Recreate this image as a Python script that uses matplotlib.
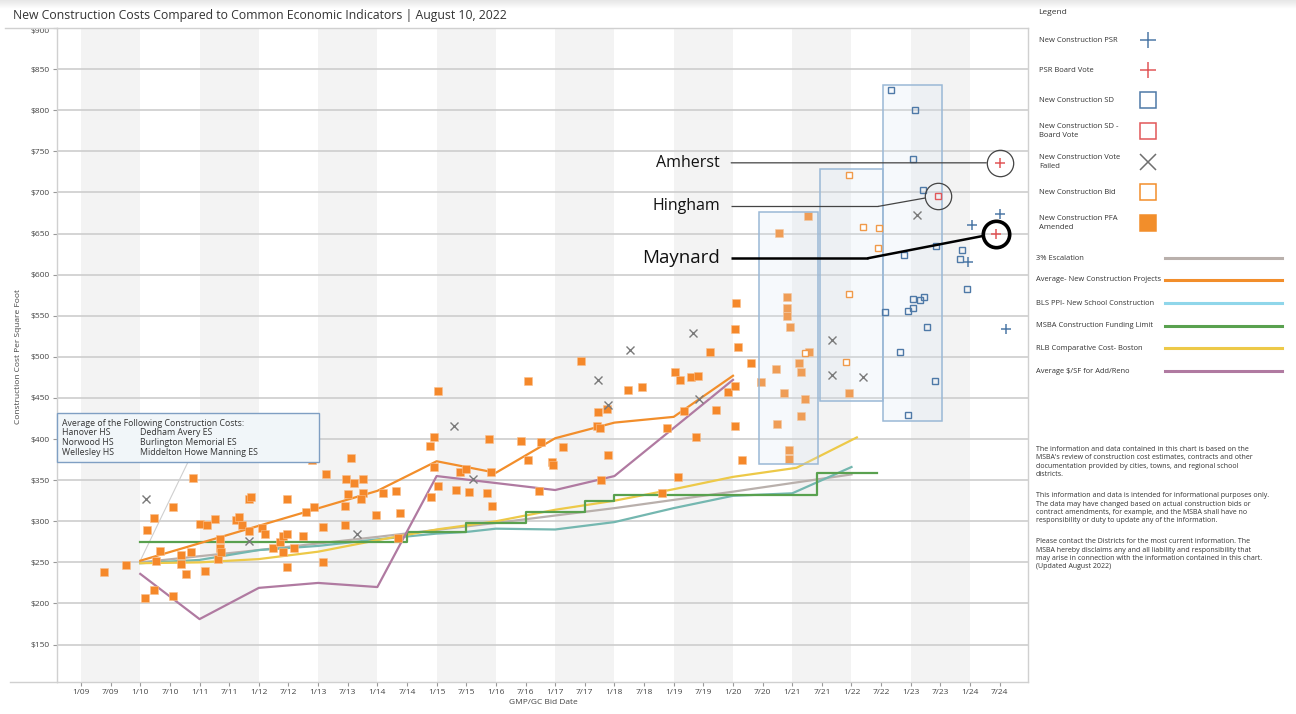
import matplotlib
matplotlib.use('Agg')
import matplotlib.pyplot as plt
from matplotlib.lines import Line2D
from matplotlib.patches import Rectangle
import numpy as np

plt.rcParams['font.family'] = ['Open Sans', 'DejaVu Sans']

# ---- data (bid year, $/sf) ----
pfa_x = [2009.39, 2009.76, 2010.11, 2010.08, 2010.24, 2010.26, 2010.33, 2010.24, 2010.55, 2010.55,
         2010.68, 2010.68, 2010.77, 2010.85, 2010.89, 2011.01, 2011.09, 2011.12, 2011.26, 2011.31,
         2011.35, 2011.35, 2011.37, 2011.62, 2011.66, 2011.72, 2011.83, 2011.83, 2011.86, 2012.06,
         2012.10, 2012.24, 2012.36, 2012.40, 2012.41, 2012.47, 2012.48, 2012.47, 2012.60, 2012.74,
         2012.80, 2012.89, 2012.93, 2013.09, 2013.09, 2013.13, 2013.47, 2013.50, 2013.45, 2013.45,
         2013.55, 2013.60, 2013.76, 2013.76, 2013.73, 2013.97, 2014.10, 2014.31, 2014.38, 2014.35,
         2014.88, 2014.96, 2015.03, 2014.96, 2015.03, 2014.91, 2015.32, 2015.39, 2015.50, 2015.55,
         2015.85, 2015.88, 2015.91, 2015.93, 2016.43, 2016.54, 2016.54, 2016.73, 2016.76, 2016.94,
         2016.97, 2017.14, 2017.44, 2017.72, 2017.87, 2017.70, 2017.76, 2017.90, 2017.78, 2018.23,
         2018.47, 2018.81, 2018.89, 2019.03, 2019.11, 2019.07, 2019.17, 2019.30, 2019.41, 2019.37,
         2019.62, 2019.72, 2019.91, 2020.04, 2020.08, 2020.04, 2020.03, 2020.16, 2020.31, 2020.47,
         2020.72, 2020.75, 2020.05, 2020.92, 2020.91, 2020.92, 2020.96, 2021.28, 2021.12, 2021.15,
         2020.86, 2021.22, 2021.15, 2020.94, 2020.95, 2021.95, 2021.27, 2020.77]
pfa_y = [238, 247, 289, 207, 304, 252, 264, 216, 317, 209,
         259, 248, 236, 263, 353, 297, 240, 295, 303, 254,
         279, 268, 263, 301, 305, 295, 288, 327, 329, 292,
         284, 267, 275, 282, 263, 327, 285, 244, 267, 282,
         311, 374, 317, 293, 250, 358, 351, 333, 318, 295,
         377, 346, 352, 335, 327, 308, 335, 337, 310, 280,
         392, 403, 458, 366, 343, 330, 338, 360, 364, 336,
         335, 400, 360, 319, 398, 471, 375, 337, 397, 372,
         368, 390, 495, 433, 437, 416, 414, 381, 350, 460,
         463, 334, 413, 482, 472, 354, 434, 475, 477, 403,
         506, 435, 457, 464, 512, 534, 416, 375, 493, 469,
         485, 418, 566, 573, 560, 550, 536, 506, 492, 482,
         456, 449, 428, 387, 376, 456, 671, 651]

bid_x = [2021.95, 2022.19, 2022.47, 2022.45, 2021.96, 2021.90, 2021.22]
bid_y = [721, 658, 657, 633, 577, 494, 505]

failed_x = [2010.09, 2011.84, 2013.65, 2015.29, 2015.62, 2017.73, 2017.90, 2018.26, 2019.33,
            2019.42, 2021.67, 2021.67, 2022.19, 2023.10]
failed_y = [327, 276, 285, 416, 351, 472, 441, 508, 529, 449, 521, 478, 475, 672]

sd_x = [2022.67, 2023.07, 2023.03, 2023.20, 2023.43, 2022.89, 2023.87, 2023.83, 2023.95, 2022.56,
        2023.22, 2023.15, 2023.04, 2023.03, 2022.96, 2023.28, 2022.81, 2023.41, 2022.96]
sd_y = [824, 800, 741, 703, 635, 624, 630, 619, 583, 555,
        573, 569, 570, 559, 556, 536, 506, 471, 429]

sdvote_x = [2023.46]
sdvote_y = [696]

psr_x = [2024.50, 2024.04, 2023.97, 2024.60]
psr_y = [674, 660, 615, 534]

psrvote_x = [2024.50, 2024.43]
psrvote_y = [736, 650]

esc_x = [2010, 2012, 2014, 2016, 2018, 2020, 2022]
esc_y = [250, 265, 281, 298, 316, 336, 357]

avg_x = [2010, 2014, 2015, 2016, 2017, 2018, 2019, 2020]
avg_y = [252, 337, 373, 359, 401, 420, 427, 477]

bls_x = [2010, 2011, 2012, 2013, 2014, 2015, 2015.5, 2016, 2017, 2018, 2019, 2020, 2021, 2022]
bls_y = [249, 253, 265, 270, 278, 285, 287, 291, 290, 299, 316, 331, 334, 366]

msba_x = [2010, 2014.5, 2015.5, 2016.5, 2017.5, 2018.0, 2021.42, 2022.43]
msba_y = [275, 287, 298, 311, 325, 332, 359, 359]

rlb_x = [2010, 2011, 2012, 2013, 2014, 2015, 2016, 2017, 2018, 2019, 2020, 2021.07, 2022.09]
rlb_y = [249, 250, 254, 263, 277, 290, 300, 314, 325, 339, 354, 365, 402]

addreno_x = [2010, 2011, 2012, 2013, 2014, 2015, 2017, 2018, 2020]
addreno_y = [236, 181, 219, 225, 220, 355, 338, 355, 472]

box_x0 = [2020.44, 2021.47, 2022.53]
box_x1 = [2021.43, 2022.53, 2023.53]
box_y0 = [370, 446, 422]
box_y1 = [676, 729, 831]

x_ticks = np.arange(2009, 2025, 0.5)
x_tick_labels = ['1/09', '7/09', '1/10', '7/10', '1/11', '7/11', '1/12', '7/12', '1/13', '7/13',
                 '1/14', '7/14', '1/15', '7/15', '1/16', '7/16', '1/17', '7/17', '1/18', '7/18',
                 '1/19', '7/19', '1/20', '7/20', '1/21', '7/21', '1/22', '7/22', '1/23', '7/23',
                 '1/24', '7/24']
y_ticks = [150, 200, 250, 300, 350, 400, 450, 500, 550, 600, 650, 700, 750, 800, 850, 900]

W, H = 1296, 714
fig = plt.figure(figsize=(W / 100, H / 100), dpi=100)


def fx(px):
    return px / W


def fy(py):
    return 1 - py / H


# header shading
gax = fig.add_axes([0, fy(9), 1, 9 / H])
gax.imshow(np.linspace(0.9, 1, 50).reshape(-1, 1), aspect='auto', cmap='gray', vmin=0, vmax=1)
gax.axis('off')

ax = fig.add_axes([fx(57), fy(682), (1028 - 57) / W, (682 - 28) / H])
ax.set_xlim(2008.595, 2024.978)
ax.set_ylim(104.5, 900)

for yr in range(2009, 2024, 2):
    ax.axvspan(yr, yr + 1, color='#f3f3f3', lw=0, zorder=0)

ax.set_yticks(y_ticks)
ax.set_yticklabels(['\\$%d' % v for v in y_ticks])
ax.get_yticklabels()[-1].set_va('top')
ax.set_xticks(x_ticks)
ax.set_xticklabels(x_tick_labels)
ax.yaxis.grid(True, color='#cdcdcd', lw=1.2, zorder=1)
ax.set_axisbelow(True)
ax.tick_params(axis='both', length=3, color='#999999', labelsize=6, labelcolor='#444444', pad=2)
for s in ax.spines.values():
    s.set_color('#d0d0d0')
    s.set_linewidth(1.0)

# lines
ax.plot(esc_x, esc_y, color='#b9b0ac', lw=1.6, zorder=3)
ax.plot(bls_x, bls_y, color='#74b7b0', lw=1.6, zorder=3)
ax.plot(rlb_x, rlb_y, color='#edc948', lw=1.6, zorder=3)
ax.plot(msba_x, msba_y, color='#59a14f', lw=1.6, drawstyle='steps-post', zorder=3)
ax.plot(addreno_x, addreno_y, color='#b07aa1', lw=1.6, zorder=3)
ax.plot(avg_x, avg_y, color='#f28e2b', lw=1.6, zorder=3)

# markers
ax.scatter(pfa_x, pfa_y, marker='s', s=26, c='#f5882a', edgecolors='#f9c08e', linewidths=0.4, zorder=5)

for x0, x1, y0, y1 in zip(box_x0, box_x1, box_y0, box_y1):
    ax.add_patch(Rectangle((x0, y0), x1 - x0, y1 - y0, facecolor='#dae8f3', alpha=0.22,
                           edgecolor='none', zorder=6))
    ax.add_patch(Rectangle((x0, y0), x1 - x0, y1 - y0, facecolor='none',
                           edgecolor='#9ab8d6', lw=1.1, zorder=6))

ax.plot(bid_x, bid_y, ls='none', marker='s', ms=5, mfc='white', mec='#f09a4a', mew=1.0, zorder=7)
ax.plot(failed_x, failed_y, ls='none', marker='x', ms=6, mec='#7a7a7a', mew=1.0, zorder=7)
ax.plot(sd_x, sd_y, ls='none', marker='s', ms=5, mfc='none', mec='#4e79a7', mew=1.0, zorder=7)
ax.plot(sdvote_x, sdvote_y, ls='none', marker='s', ms=5, mfc='none', mec='#e15759', mew=1.0, zorder=7)
ax.plot(psr_x, psr_y, ls='none', marker='+', ms=7, mec='#4e79a7', mew=1.1, zorder=7)
ax.plot(psrvote_x, psrvote_y, ls='none', marker='+', ms=7, mec='#e15759', mew=1.1, zorder=7)

# callouts
callout_labels = ['Amherst', 'Hingham', 'Maynard']
callout_targets = [(psrvote_x[0], psrvote_y[0]), (sdvote_x[0], sdvote_y[0]), (psrvote_x[1], psrvote_y[1])]
callout_y = [736, 683, 620]
callout_bend = [None, 2022.45, 2022.28]
callout_size = [11.5, 11.5, 13.5]
callout_lw = [0.9, 0.9, 1.8]
callout_ring = [0.9, 0.9, 2.6]
callout_col = ['#444444', '#444444', '#000000']
for lbl, tgt, ly, bx, fs, lw, rw, c in zip(callout_labels, callout_targets, callout_y, callout_bend,
                                          callout_size, callout_lw, callout_ring, callout_col):
    ax.text(2019.78, ly, lbl, ha='right', va='center', fontsize=fs, color='#111111', zorder=9)
    if bx is None:
        start = (2019.97, ly)
    else:
        ax.plot([2019.97, bx], [ly, ly], color=c, lw=lw, zorder=8, solid_capstyle='butt')
        start = (bx, ly)
    ax.annotate('', xy=tgt, xytext=start,
                arrowprops=dict(arrowstyle='-', color=c, lw=lw, shrinkA=0, shrinkB=9.6), zorder=8)
    ax.plot([tgt[0]], [tgt[1]], marker='o', ms=19, mfc='none', mec=c, mew=rw, zorder=8)

# info box
fig.patches.append(Rectangle((fx(57), fy(462)), (319 - 57) / W, (462 - 413) / H,
                             transform=fig.transFigure, facecolor='#f1f6f9', edgecolor='#7f9fc3',
                             lw=1.0, zorder=10))
ax.annotate('', xy=(avg_x[0], avg_y[0]), xytext=(188, H - 462), textcoords='figure pixels',
            arrowprops=dict(arrowstyle='-', color='#cfcfcf', lw=0.8, shrinkA=0, shrinkB=0), zorder=2)
tk = dict(fontsize=6.3, color='#333333', va='center', zorder=11)
fig.text(fx(62), fy(423), 'Average of the Following Construction Costs:', **tk)
for i, (a, b) in enumerate([('Hanover HS', 'Dedham Avery ES'), ('Norwood HS', 'Burlington Memorial ES'),
                            ('Wellesley HS', 'Middelton Howe Manning ES')]):
    fig.text(fx(62), fy(433 + 9.7 * i), a, **tk)
    fig.text(fx(140), fy(433 + 9.7 * i), b, **tk)

# titles / labels
fig.text(fx(13), fy(15), 'New Construction Costs Compared to Common Economic Indicators | August 10, 2022',
         fontsize=8.8, color='#333333', va='center')
fig.text(fx(543), fy(703), 'GMP/GC Bid Date', fontsize=6, color='#444444', ha='center', va='center')
fig.text(fx(19), fy(357), 'Construction Cost Per Square Foot', fontsize=6, color='#444444',
         rotation=90, ha='center', va='center')

# edge lines
fig.add_artist(Line2D([fx(5), fx(57)], [fy(28), fy(28)], color='#d0d0d0', lw=1.0))
fig.add_artist(Line2D([fx(10), fx(57)], [fy(682), fy(682)], color='#d0d0d0', lw=1.0))

# legend panel
fig.text(fx(1038), fy(12), 'Legend', fontsize=6, color='#333333', va='center')
leg_labels = ['New Construction PSR', 'PSR Board Vote', 'New Construction SD',
              'New Construction SD -\nBoard Vote', 'New Construction Vote\nFailed',
              'New Construction Bid', 'New Construction PFA\nAmended']
leg_y = [40, 70, 100, 131, 162, 192, 223]
leg_marker = [('+', 'none', '#4e79a7'), ('+', 'none', '#e15759'), ('s', 'none', '#4e79a7'),
              ('s', 'none', '#e15759'), ('x', 'none', '#6f6f6f'), ('s', 'none', '#f28e2b'),
              ('s', '#f28e2b', '#f28e2b')]
for lbl, yy, (m, fc, ec) in zip(leg_labels, leg_y, leg_marker):
    fig.text(fx(1039), fy(yy), lbl, fontsize=5.5, color='#333333', va='center', linespacing=1.25)
    fig.add_artist(Line2D([fx(1148)], [fy(yy)], marker=m, ms=11, mfc=fc, mec=ec, mew=1.1, ls='none'))

line_labels = ['3% Escalation', 'Average- New Construction Projects', 'BLS PPI- New School Construction',
               'MSBA Construction Funding Limit', 'RLB Comparative Cost- Boston', 'Average $/SF for Add/Reno']
line_colors = ['#b9b0ac', '#f28e2b', '#8fd6ea', '#59a14f', '#edc948', '#b07aa1']
line_y = [258, 280, 303, 326, 348, 371]
for lbl, c, yy in zip(line_labels, line_colors, line_y):
    fig.text(fx(1036), fy(yy), lbl, fontsize=5.4, color='#333333', va='center')
    fig.add_artist(Line2D([fx(1165), fx(1282)], [fy(yy), fy(yy)], color=c, lw=2.2))

notes = [
    "The information and data contained in this chart is based on the\n"
    "MSBA's review of construction cost estimates, contracts and other\n"
    "documentation provided by cities, towns, and regional school\n"
    "districts.",
    "This information and data is intended for informational purposes only.\n"
    "The data may have changed based on actual construction bids or\n"
    "contract amendments, for example, and the MSBA shall have no\n"
    "responsibility or duty to update any of the information.",
    "Please contact the Districts for the most current information. The\n"
    "MSBA hereby disclaims any and all liability and responsibility that\n"
    "may arise in connection with the information contained in this chart.\n"
    "(Updated August 2022)",
]
for txt, yy in zip(notes, [446, 492, 538]):
    fig.text(fx(1036), fy(yy), txt, fontsize=5.0, color='#333333', va='top', linespacing=1.3)

fig.savefig('out.png', dpi=100)
